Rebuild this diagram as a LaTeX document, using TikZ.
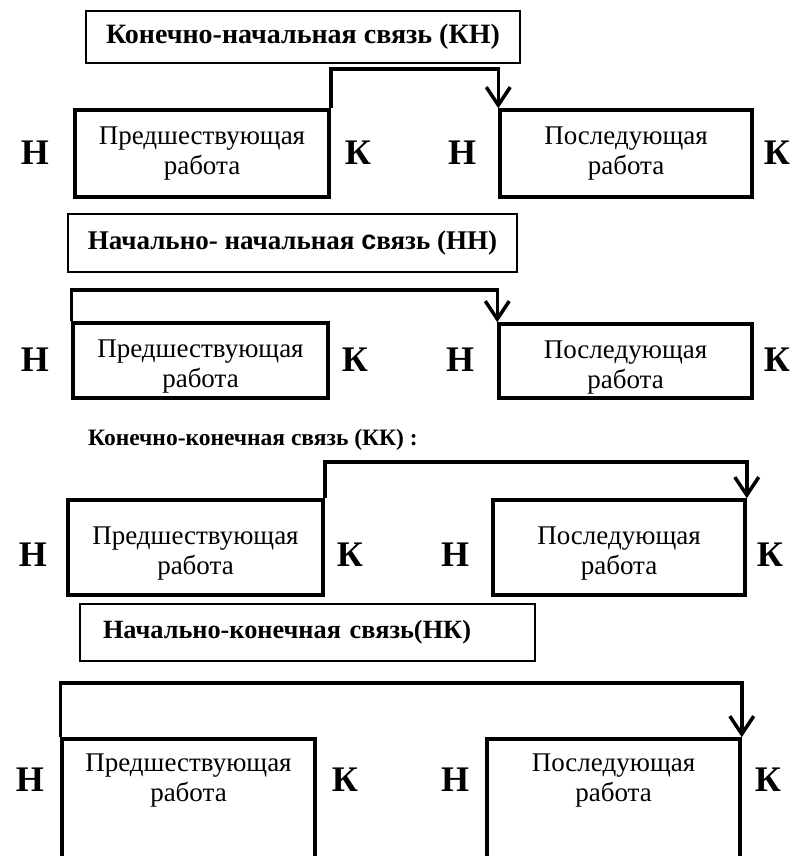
\documentclass[tikz,border=0pt]{standalone}
\usepackage{fontspec}
\setmainfont{Liberation Serif}
\newfontfamily\sansbold{Liberation Sans}
\usepackage{tikz}
\usetikzlibrary{arrows.meta}
\tikzset{
    jobbox/.style = {rectangle, line width=3.5pt, draw=black, align=center, inner sep=0pt, font=\fontsize{27}{30}\selectfont},
    titlebox/.style = {rectangle, line width=1.6pt, draw=black, inner sep=0pt, font=\bfseries\fontsize{27}{30}\selectfont},
    titletext/.style = {inner sep=0pt, font=\bfseries\fontsize{23.5}{26}\selectfont},
    endlbl/.style = {inner sep=0pt, font=\bfseries\fontsize{36}{36}\selectfont},
    link/.style = {-{Straight Barb[length=18pt,width=24pt]}, line width=3.5pt}
}

\begin{document}
\begin{tikzpicture}[x=1pt, y=-1pt]
\path[use as bounding box, clip] (0,0) rectangle (791,856);

% КН
\node[titlebox, minimum width=434pt, minimum height=52pt, font=\bfseries\fontsize{28}{30}\selectfont] at (303, 37) (t1) {Конечно-начальная связь (КН)};
\node[jobbox, minimum width=254pt, minimum height=87pt] at (202, 153.5) (p1) {Предшествующая\\работа};
\node[jobbox, minimum width=252pt, minimum height=87pt] at (626, 153.5) (n1) {Последующая\\работа};
\node[endlbl] at (35, 153) (h1) {Н};
\node[endlbl] at (358, 153) (k1) {К};
\node[endlbl] at (462, 153) (hh1) {Н};
\node[endlbl] at (777, 153) (kk1) {К};
\coordinate (c1) at (415, 69);
\draw[link] (p1.north east) |- (c1) -| (n1.north west);

% НН
\node[titlebox, minimum width=449pt, minimum height=58pt] at (292.5, 243) (t2) {Начально- начальная {\sansbold с}вязь (НН)};
\node[jobbox, minimum width=255pt, minimum height=75pt, text height=60pt] at (200.5, 360.5) (p2) {Предшествующая\\работа};
\node[jobbox, minimum width=253pt, minimum height=74pt, text height=60pt] at (625.5, 361) (n2) {Последующая\\работа};
\node[endlbl] at (35, 360) (h2) {Н};
\node[endlbl] at (355, 360) (k2) {К};
\node[endlbl] at (460, 360) (hh2) {Н};
\node[endlbl] at (777, 360) (kk2) {К};
\coordinate (c2) at (285, 290);
\draw[link] (p2.north west) |- (c2) -| (n2.north west);

% КК
\node[titletext, anchor=west] at (88, 440) (t3) {Конечно-конечная связь (КК) :};
\node[jobbox, minimum width=255pt, minimum height=95pt, text height=59pt] at (195.5, 547.5) (p3) {Предшествующая\\работа};
\node[jobbox, minimum width=252pt, minimum height=95pt, text height=59pt] at (619, 547.5) (n3) {Последующая\\работа};
\node[endlbl] at (33, 555) (h3) {Н};
\node[endlbl] at (350, 555) (k3) {К};
\node[endlbl] at (455, 555) (hh3) {Н};
\node[endlbl] at (770, 555) (kk3) {К};
\coordinate (c3) at (534, 462);
\draw[link] (p3.north east) |- (c3) -| (n3.north east);

% НК
\node[titlebox, minimum width=455pt, minimum height=57pt, text width=409pt, align=left, font=\bfseries\fontsize{26.3}{30}\selectfont] at (307.5, 632.5) (t4) {Начально-конечная связь(НК)};
\node[jobbox, minimum width=253pt, minimum height=140pt, text depth=63pt] at (188.5, 809) (p4) {Предшествующая\\работа};
\node[jobbox, minimum width=253pt, minimum height=140pt, text depth=63pt] at (613.5, 809) (n4) {Последующая\\работа};
\node[endlbl] at (30, 780) (h4) {Н};
\node[endlbl] at (345, 780) (k4) {К};
\node[endlbl] at (455, 780) (hh4) {Н};
\node[endlbl] at (768, 780) (kk4) {К};
\coordinate (c4) at (400, 683);
\draw[link] (p4.north west) |- (c4) -| (n4.north east);

\end{tikzpicture}
\end{document}
